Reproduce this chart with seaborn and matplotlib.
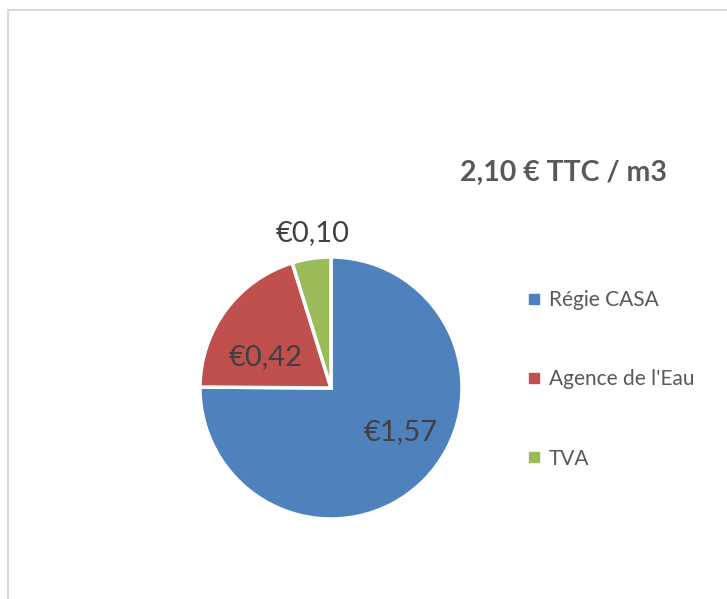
import matplotlib
matplotlib.use("Agg")
import matplotlib.pyplot as plt
from matplotlib.patches import Rectangle
from matplotlib.lines import Line2D
import seaborn as sns

categories = ["Régie CASA", "Agence de l'Eau", "TVA"]
values = [1.57, 0.42, 0.10]
value_labels = ["€1,57", "€0,42", "€0,10"]
title_text = "2,10 € TTC / m3"

sns.set_theme(style="white")
plt.rcParams['font.family'] = ['Lato', 'DejaVu Sans']

colors = ["#4F81BD", "#C0504D", "#9BBB59"]
palette = sns.color_palette(colors)

W, H = 727, 599
fig = plt.figure(figsize=(W / 100, H / 100), dpi=100)
fig.patch.set_facecolor("white")

# border
fig.patches.append(Rectangle((8 / W, -0.05), 1.1, (H - 10) / H + 0.05,
                             transform=fig.transFigure, fill=False,
                             edgecolor="#d9d9d9", linewidth=1.5))

cx, cy, r = 331, 388, 131
ax = fig.add_axes([(cx - r) / W, (H - cy - r) / H, 2 * r / W, 2 * r / H])
wedges, _ = ax.pie(values, colors=palette, startangle=90, counterclock=False,
                   radius=1, wedgeprops=dict(edgecolor="white", linewidth=2.5))
ax.set_xlim(-1, 1)
ax.set_ylim(-1, 1)
ax.set_aspect("equal")
ax.axis("off")

# data labels (positions in radius units, matching the reference placement)
label_pos = [(0.53, -0.34), (-0.50, 0.24), (-0.14, 1.18)]
for (x, y), t in zip(label_pos, value_labels):
    ax.text(x, y, t, ha="center", va="center", fontsize=21, color="#404040")

fig.text(564 / W, 1 - 173 / H, title_text, ha="center", va="center",
         fontsize=20.5, fontweight="bold", color="#595959")

handles = [Line2D([], [], marker="s", linestyle="none", markersize=6.5,
                  markerfacecolor=c, markeredgecolor=c) for c in colors]
leg = fig.legend(handles, categories, loc="upper left",
                 bbox_to_anchor=(525 / W, 1 - 290 / H), frameon=False,
                 fontsize=15, labelspacing=2.85, handletextpad=0.25,
                 handlelength=0.9, borderaxespad=0, borderpad=0)
for t in leg.get_texts():
    t.set_color("#595959")

fig.savefig("out.png", dpi=100)
